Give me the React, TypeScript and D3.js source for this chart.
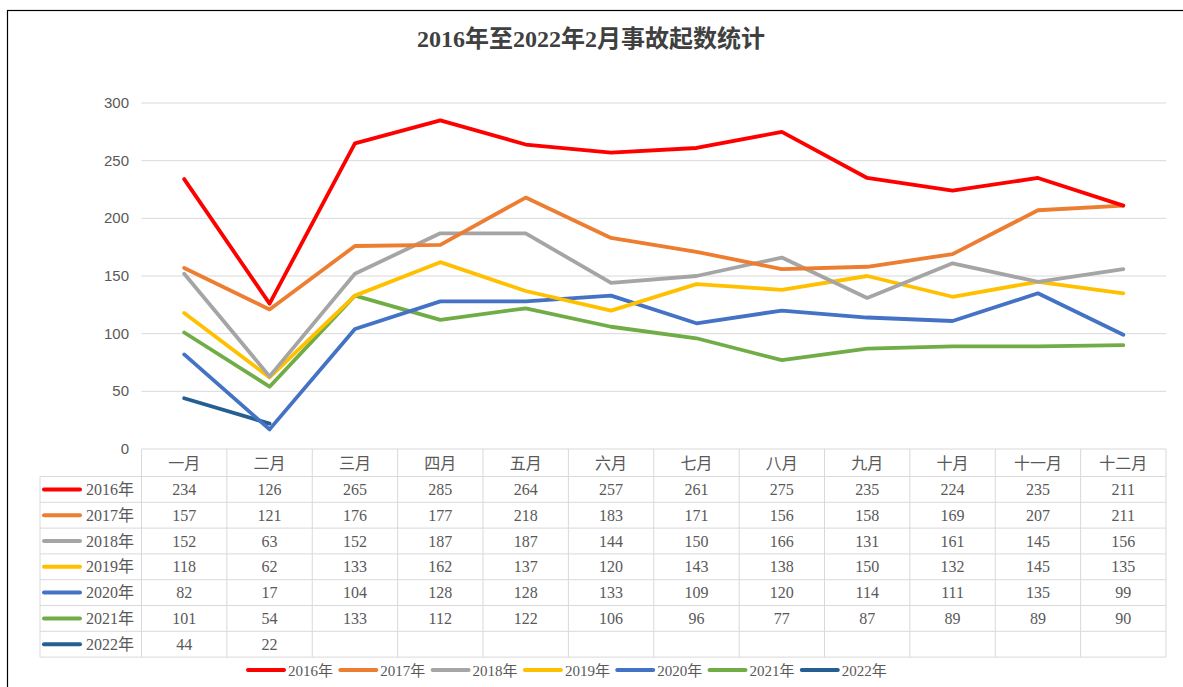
import React from "react";
import * as d3 from "d3";

const months = ["一月", "二月", "三月", "四月", "五月", "六月", "七月", "八月", "九月", "十月", "十一月", "十二月"];
const seriesNames = ["2016年", "2017年", "2018年", "2019年", "2020年", "2021年", "2022年"];
const seriesColors = ["#FF0000", "#ED7D31", "#A5A5A5", "#FFC000", "#4472C4", "#70AD47", "#255E91"];
const v2016 = [234, 126, 265, 285, 264, 257, 261, 275, 235, 224, 235, 211];
const v2017 = [157, 121, 176, 177, 218, 183, 171, 156, 158, 169, 207, 211];
const v2018 = [152, 63, 152, 187, 187, 144, 150, 166, 131, 161, 145, 156];
const v2019 = [118, 62, 133, 162, 137, 120, 143, 138, 150, 132, 145, 135];
const v2020 = [82, 17, 104, 128, 128, 133, 109, 120, 114, 111, 135, 99];
const v2021 = [101, 54, 133, 112, 122, 106, 96, 77, 87, 89, 89, 90];
const v2022 = [44, 22];
const yTicks = [0, 50, 100, 150, 200, 250, 300];
const title = "2016年至2022年2月事故起数统计";

const allSeries = [v2016, v2017, v2018, v2019, v2020, v2021, v2022];

export default function App() {
  const W = 1183, H = 687;
  const tableLeft = 40, colLeft = 141.5, right = 1166;
  const y = d3.scaleLinear().domain([0, 300]).range([449, 103]);
  const x = d3.scaleBand<string>().domain(months).range([colLeft, right]);
  const headerTop = 449, headerH = 27.5, rowH = 25.8;
  const rowTop = (i: number) => headerTop + headerH + i * rowH;
  const tableBottom = rowTop(seriesNames.length);
  const line = d3.line<number>().x((_, i) => (x(months[i]) as number) + x.bandwidth() / 2).y(d => y(d));
  const gridColor = "#D9D9D9";
  const textColor = "#595959";
  const serif = "'Liberation Serif', 'Noto Sans CJK SC', serif";
  const sans = "'Liberation Sans', 'Noto Sans CJK SC', sans-serif";
  const legendStart = 248, legendStep = 92.3;

  return (
    <div style={{ position: "absolute", left: 0, top: 0 }}>
      <svg width={W} height={H} style={{ display: "block", background: "#fff" }}>
        <rect x={7.5} y={10.5} width={1200} height={700} fill="none" stroke="#000" strokeWidth={1.2} />
        <text x={591} y={47} textAnchor="middle" fontFamily={serif} fontWeight="bold" fontSize={24} fill="#404040">{title}</text>

        {yTicks.map(t => (
          <g key={t}>
            {t > 0 && <line x1={colLeft} x2={right} y1={y(t)} y2={y(t)} stroke={gridColor} strokeWidth={1} />}
            <text x={129} y={y(t) + 5} textAnchor="end" fontFamily={sans} fontSize={15} fill={textColor}>{t}</text>
          </g>
        ))}

        {/* table */}
        <g stroke={gridColor} strokeWidth={1}>
          <line x1={colLeft} x2={right} y1={headerTop} y2={headerTop} />
          {seriesNames.map((_, i) => (
            <line key={"h" + i} x1={tableLeft} x2={right} y1={rowTop(i)} y2={rowTop(i)} />
          ))}
          <line x1={tableLeft} x2={right} y1={tableBottom} y2={tableBottom} />
          <line x1={tableLeft} x2={tableLeft} y1={rowTop(0)} y2={tableBottom} />
          {months.map(m => (
            <line key={"v" + m} x1={x(m) as number} x2={x(m) as number} y1={headerTop} y2={tableBottom} />
          ))}
          <line x1={right} x2={right} y1={headerTop} y2={tableBottom} />
        </g>
        {months.map(m => (
          <text key={"m" + m} x={(x(m) as number) + x.bandwidth() / 2} y={headerTop + 19.5} textAnchor="middle" fontFamily={serif} fontSize={16} fill={textColor}>{m}</text>
        ))}
        {seriesNames.map((name, i) => (
          <g key={"r" + name}>
            <line x1={44} x2={80} y1={rowTop(i) + rowH / 2} y2={rowTop(i) + rowH / 2} stroke={seriesColors[i]} strokeWidth={4} strokeLinecap="round" />
            <text x={86} y={rowTop(i) + 18.5} fontFamily={serif} fontSize={16} fill={textColor}>{name}</text>
            {allSeries[i].map((v, j) => (
              <text key={j} x={(x(months[j]) as number) + x.bandwidth() / 2} y={rowTop(i) + 18.5} textAnchor="middle" fontFamily={serif} fontSize={16} fill={textColor}>{v}</text>
            ))}
          </g>
        ))}

        {/* lines */}
        {allSeries.slice().reverse().map((vals, ri) => {
          const i = allSeries.length - 1 - ri;
          return (
            <path key={"l" + i} d={line(vals) as string} fill="none" stroke={seriesColors[i]} strokeWidth={3.8} strokeLinejoin="round" strokeLinecap="round" />
          );
        })}

        {/* legend */}
        {seriesNames.map((name, i) => {
          const lx = legendStart + i * legendStep;
          return (
            <g key={"lg" + name}>
              <line x1={lx} x2={lx + 36} y1={670} y2={670} stroke={seriesColors[i]} strokeWidth={4} strokeLinecap="round" />
              <text x={lx + 40} y={675.5} fontFamily={serif} fontSize={15} fill={textColor}>{name}</text>
            </g>
          );
        })}
      </svg>
    </div>
  );
}
